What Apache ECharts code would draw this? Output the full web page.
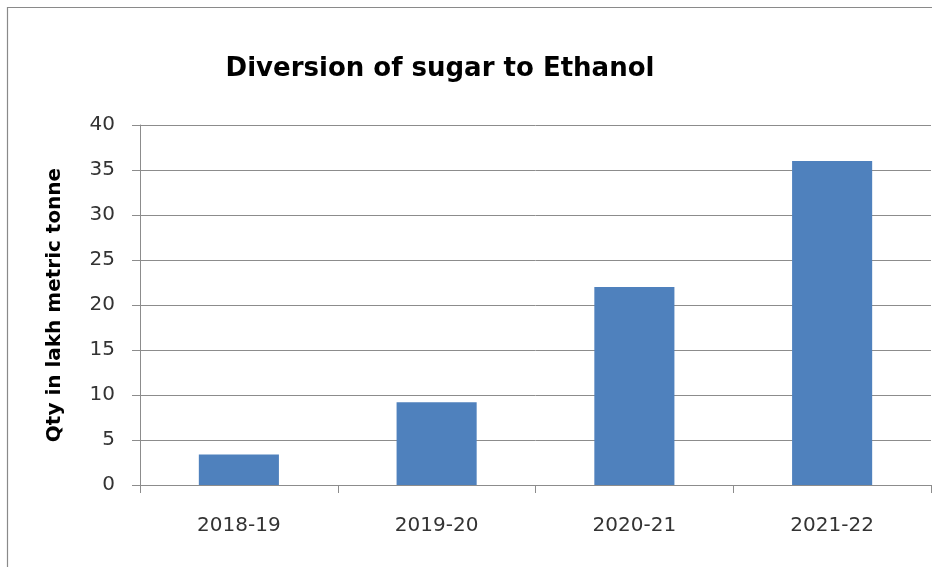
<!DOCTYPE html>
<html>
<head>
<meta charset="utf-8">
<script src="https://cdn.jsdelivr.net/npm/echarts@6/dist/echarts.min.js"></script>
<style>
html,body{margin:0;padding:0;background:#fff;overflow:hidden;}
#chart{width:932px;height:567px;}
</style>
</head>
<body>
<div id="chart"></div>
<script>
const categories = ["2018-19", "2019-20", "2020-21", "2021-22"];
const values = [3.4, 9.2, 22, 36];
const titleText = "Diversion of sugar to Ethanol";
const yAxisName = "Qty in lakh metric tonne";

const chart = echarts.init(document.getElementById('chart'), null, {renderer: 'canvas'});
chart.setOption({
  backgroundColor: '#ffffff',
  animation: false,
  title: {
    text: titleText,
    left: 440,
    top: 56,
    padding: 0,
    textAlign: 'center',
    textStyle: {fontFamily: 'DejaVu Sans', fontWeight: 'bold', fontSize: 26, color: '#000000'}
  },
  graphic: [{
    type: 'polyline',
    shape: {points: [[7.5, 567], [7.5, 7.5], [932, 7.5]]},
    style: {fill: 'none', stroke: '#8a8a8a', lineWidth: 1.2},
    silent: true
  }],
  grid: {left: 140, right: 1, top: 125, bottom: 82, containLabel: false},
  xAxis: {
    type: 'category',
    data: categories,
    axisLine: {lineStyle: {color: '#8c8c8c', width: 1}},
    axisTick: {show: true, length: 8, lineStyle: {color: '#8c8c8c'}},
    axisLabel: {margin: 31, fontFamily: 'DejaVu Sans', fontSize: 20, color: '#333333'},
    splitLine: {show: false}
  },
  yAxis: {
    type: 'value',
    min: 0, max: 40, interval: 5,
    name: yAxisName,
    nameLocation: 'middle',
    nameGap: 75,
    nameRotate: 90,
    nameTextStyle: {fontFamily: 'DejaVu Sans', fontWeight: 'bold', fontSize: 20, color: '#000000'},
    axisLine: {show: true, lineStyle: {color: '#8c8c8c', width: 1}},
    axisTick: {show: true, length: 8, lineStyle: {color: '#8c8c8c'}},
    axisLabel: {margin: 25, fontFamily: 'DejaVu Sans', fontSize: 20, color: '#333333'},
    splitLine: {show: true, lineStyle: {color: '#8c8c8c', width: 1}}
  },
  series: [{
    type: 'bar',
    data: values,
    barCategoryGap: '59.5%',
    itemStyle: {color: '#4f81bd'}
  }]
});
</script>
</body>
</html>
